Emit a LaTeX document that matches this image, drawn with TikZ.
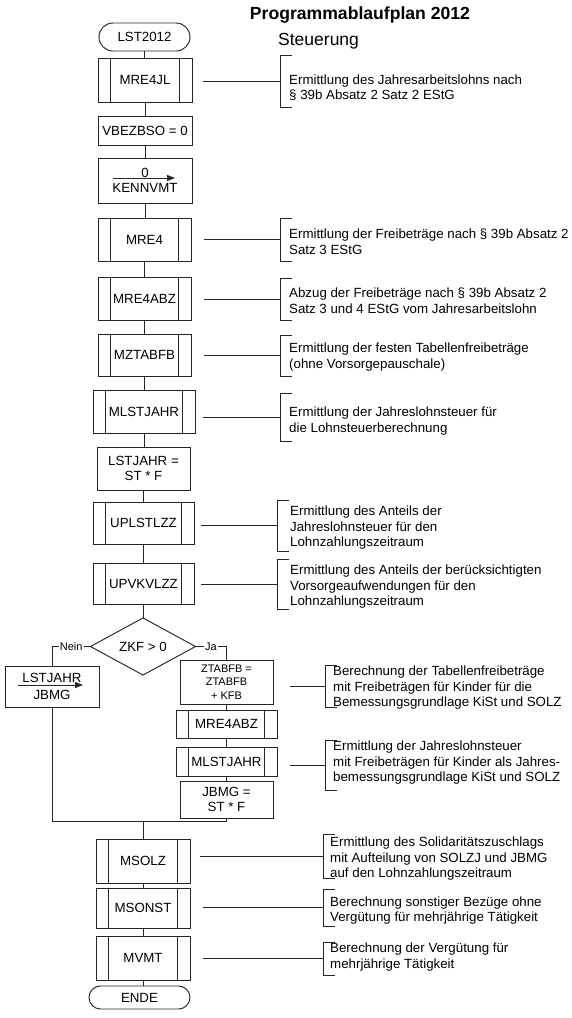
\documentclass[tikz,border=0pt]{standalone}
\usepackage{fontspec}
\setmainfont{Liberation Sans}
\usetikzlibrary{shapes.geometric,arrows.meta}
\newcommand\lblfont{\fontsize{13.3}{15}\selectfont}
\newcommand\descfont{\fontsize{13.3}{15.5}\selectfont}
\newcommand\smallfont{\fontsize{11}{13.5}\selectfont}
\begin{document}
\begin{tikzpicture}[x=1pt,y=-1pt,
  ln/.style={line width=0.95pt, draw=black!85},
  pbox/.style={ln, rectangle, inner sep=0pt, outer sep=0pt, font=\lblfont, align=center},
  tbox/.style={pbox, rounded corners=#1},
  dbox/.style={ln, diamond, inner sep=0pt, outer sep=0pt, font=\lblfont},
  brk/.style={rectangle, inner sep=0pt, outer sep=0pt, minimum width=12pt},
  desc/.style={anchor=west, inner sep=0pt, align=left, font=\descfont},
  flabel/.style={fill=white, inner sep=1pt, font=\smallfont},
  conn/.style={ln},
  asg/.style={ln, -{Triangle[length=8pt,width=6pt]}},
]
\useasboundingbox (0,0) rectangle (572,1018);

% titles
\node[anchor=base, inner sep=0pt, font=\bfseries\fontsize{17.6}{20}\selectfont] (title) at (360,19) {Programmablaufplan 2012};
\node[anchor=base west, inner sep=0pt, font=\fontsize{17.5}{20}\selectfont] (steu) at (278,45) {Steuerung};

% main column
\node[tbox=14pt, minimum width=91pt, minimum height=28pt] (start) at (144.5,37) {LST2012};
\node[pbox, minimum width=94pt, minimum height=44pt] (mre4jl) at (145,80) {MRE4JL};
\node[pbox, minimum width=94pt, minimum height=29pt] (vbez) at (145,130.5) {VBEZBSO = 0};
\node[pbox, minimum width=94pt, minimum height=45pt] (kenn) at (145,180.5) {0\\KENNVMT};
\node[pbox, minimum width=93pt, minimum height=43pt] (mre4) at (144.5,239.5) {MRE4};
\node[pbox, minimum width=93pt, minimum height=43pt] (mre4abz) at (144.5,298.5) {MRE4ABZ};
\node[pbox, minimum width=93pt, minimum height=42pt] (mztabfb) at (144.5,355) {MZTABFB};
\node[pbox, minimum width=102pt, minimum height=43pt] (mlst) at (144,411.5) {MLSTJAHR};
\node[pbox, minimum width=93pt, minimum height=43pt] (lstjahr) at (143.5,468.5) {LSTJAHR =\\ST * F};
\node[pbox, minimum width=101pt, minimum height=42pt] (uplst) at (143.5,523) {UPLSTLZZ};
\node[pbox, minimum width=101pt, minimum height=41pt] (upvkv) at (143.5,583.5) {UPVKVLZZ};
\node[dbox, minimum width=105pt, minimum height=55pt] (zkf) at (143,646.5) {ZKF > 0};

% branches
\node[pbox, minimum width=94pt, minimum height=41pt] (nein) at (52,686.5) {LSTJAHR\\[2pt]JBMG};
\node[pbox, minimum width=93pt, minimum height=44pt, font=\smallfont] (ztabfb) at (226.5,682) {ZTABFB =\\ZTABFB\\+ KFB};
\node[pbox, minimum width=101pt, minimum height=28pt] (mre4abzb) at (226.5,724) {MRE4ABZ};
\node[pbox, minimum width=101pt, minimum height=29pt] (mlstb) at (226.5,761.5) {MLSTJAHR};
\node[pbox, minimum width=93pt, minimum height=37pt] (jbmg) at (226.5,799.5) {JBMG =\\ST * F};
\coordinate (mrg) at (143,821);

% bottom column
\node[pbox, minimum width=94pt, minimum height=44pt] (msolz) at (143,861) {MSOLZ};
\node[pbox, minimum width=94pt, minimum height=40pt] (msonst) at (143,908) {MSONST};
\node[pbox, minimum width=94pt, minimum height=44pt] (mvmt) at (143,958) {MVMT};
\node[tbox=11.5pt, minimum width=101pt, minimum height=23pt] (ende) at (139.5,997.5) {ENDE};

% sub-process inner lines
\foreach \n in {mre4jl,mre4,mre4abz,mztabfb,mlst,uplst,upvkv,mre4abzb,mlstb,msolz,msonst,mvmt}{
  \draw[ln] ([xshift=12.5pt]\n.north west) -- ([xshift=12.5pt]\n.south west);
  \draw[ln] ([xshift=-12.5pt]\n.north east) -- ([xshift=-12.5pt]\n.south east);
}

% assignment arrows
\draw[asg] ([xshift=-32pt,yshift=2.5pt]kenn.center) -- ([xshift=30pt,yshift=2.5pt]kenn.center);
\draw[asg] ([xshift=-34pt,yshift=1.5pt]nein.center) -- ([xshift=31pt,yshift=1.5pt]nein.center);

% vertical flow
\foreach \a/\b in {start/mre4jl,mre4jl/vbez,vbez/kenn,kenn/mre4,mre4/mre4abz,mre4abz/mztabfb,mztabfb/mlst,mlst/lstjahr,lstjahr/uplst,uplst/upvkv,upvkv/zkf,ztabfb/mre4abzb,mre4abzb/mlstb,mlstb/jbmg,msolz/msonst,msonst/mvmt,mvmt/ende}{
  \draw[conn] (\a.south) -- (\a.south |- \b.north);
}
\draw[conn] (zkf.west) -- node[flabel, pos=0.5] (nl) {Nein} (zkf.west -| nein.north) -- (nein.north);
\draw[conn] (zkf.east) -- node[flabel, pos=0.5] (jl) {Ja} (zkf.east -| ztabfb.north) -- (ztabfb.north);
\draw[conn] (nein.south) |- (mrg) -| (jbmg.south);
\draw[conn] (mrg) -- (msolz.north);

% brackets
\node[brk, anchor=north west, minimum height=52pt] (b1) at (280,55) {};
\node[brk, anchor=north west, minimum height=43pt] (b2) at (280,218) {};
\node[brk, anchor=north west, minimum height=42pt] (b3) at (280,278) {};
\node[brk, anchor=north west, minimum height=41pt] (b4) at (280,335) {};
\node[brk, anchor=north west, minimum height=48pt] (b5) at (280,393) {};
\node[brk, anchor=north west, minimum height=51pt] (b6) at (277,500) {};
\node[brk, anchor=north west, minimum height=50pt] (b7) at (277,559) {};
\node[brk, anchor=north west, minimum height=42pt] (b8) at (325,665) {};
\node[brk, anchor=north west, minimum height=50pt] (b9) at (325,740) {};
\node[brk, anchor=north west, minimum height=44pt] (b10) at (323,834) {};
\node[brk, anchor=north west, minimum height=37pt] (b11) at (323,889) {};
\node[brk, anchor=north west, minimum height=33pt] (b12) at (323,942) {};
\foreach \b in {b1,b2,b3,b4,b5,b6,b7,b8,b9,b10,b11,b12}{
  \draw[ln] ([xshift=12pt]\b.north west) -- (\b.north west) -- (\b.south west) -- ([xshift=12pt]\b.south west);
}

% connectors to brackets
\foreach \n/\b/\g in {mre4jl/b1/11,mre4/b2/13,mre4abz/b3/13,mztabfb/b4/13,mlst/b5/8,uplst/b6/7,upvkv/b7/7,ztabfb/b8/17,mlstb/b9/13,msolz/b10/10,msonst/b11/13,mvmt/b12/13}{
  \draw[conn, shorten <=\g pt] (\n.east |- \b.west) -- (\b.west);
}

% descriptions
\node[desc] (d1) at (289,87.5) {Ermittlung des Jahresarbeitslohns nach\\§ 39b Absatz 2 Satz 2 EStG};
\node[desc] (d2) at (289,241.5) {Ermittlung der Freibeträge nach § 39b Absatz 2\\Satz 3 EStG};
\node[desc] (d3) at (289,300.5) {Abzug der Freibeträge nach § 39b Absatz 2\\Satz 3 und 4 EStG vom Jahresarbeitslohn};
\node[desc] (d4) at (289,357) {Ermittlung der festen Tabellenfreibeträge\\(ohne Vorsorgepauschale)};
\node[desc] (d5) at (289,421) {Ermittlung der Jahreslohnsteuer für\\die Lohnsteuerberechnung};
\node[desc] (d6) at (290,528) {Ermittlung des Anteils der\\Jahreslohnsteuer für den\\Lohnzahlungszeitraum};
\node[desc] (d7) at (290,587) {Ermittlung des Anteils der berücksichtigten\\Vorsorgeaufwendungen für den\\Lohnzahlungszeitraum};
\node[desc] (d8) at (333,688) {Berechnung der Tabellenfreibeträge\\mit Freibeträgen für Kinder für die\\Bemessungsgrundlage KiSt und SOLZ};
\node[desc] (d9) at (333,763) {Ermittlung der Jahreslohnsteuer\\mit Freibeträgen für Kinder als Jahres-\\bemessungsgrundlage KiSt und SOLZ};
\node[desc] (d10) at (330,859) {Ermittlung des Solidaritätszuschlags\\mit Aufteilung von SOLZJ und JBMG\\auf den Lohnzahlungszeitraum};
\node[desc] (d11) at (330,910.5) {Berechnung sonstiger Bezüge ohne\\Vergütung für mehrjährige Tätigkeit};
\node[desc] (d12) at (330,957) {Berechnung der Vergütung für\\mehrjährige Tätigkeit};
\end{tikzpicture}
\end{document}
